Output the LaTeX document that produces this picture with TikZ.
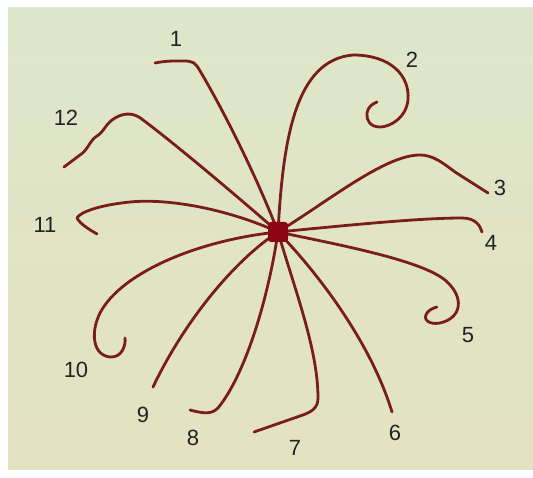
\documentclass[tikz,border=0pt]{standalone}
\usepackage{fontspec}
\setmainfont{Liberation Sans}
\definecolor{paper}{RGB}{222,230,202}
\definecolor{paperlow}{RGB}{227,226,192}
\definecolor{tent}{RGB}{122,28,26}
\definecolor{hubc}{RGB}{138,4,22}
\definecolor{ink}{RGB}{35,35,35}
\tikzset{
  tentacle/.style={draw=tent, line width=2.8pt, line cap=round, line join=round},
  hubbox/.style={fill=hubc, minimum size=20pt, inner sep=0pt, rounded corners=3pt},
  num/.style={text=ink, font=\fontsize{22}{26}\selectfont, inner sep=0pt}
}
\begin{document}
\begin{tikzpicture}[x=1pt,y=-1pt]
\useasboundingbox (0,0) rectangle (533,478);
\fill[white] (0,0) rectangle (533,478);
\shade[top color=paper, bottom color=paperlow] (8,8) rectangle (533,469);
\coordinate (c) at (278,232);
% 1
\draw[tentacle] (c) .. controls (252,165) and (215,95) .. (197,66) .. controls (193,60) and (186,61) .. (176,61) .. controls (166,61) and (160,62) .. (155,63);
% 2
\draw[tentacle] (c) .. controls (283,140) and (295,60) .. (353,55) .. controls (390,55) and (410,75) .. (408,100) .. controls (406,118) and (390,127) .. (380,127) .. controls (370,127) and (366,120) .. (367,113) .. controls (368,107) and (372,104) .. (377,102);
% 3
\draw[tentacle] (c) .. controls (330,200) and (385,155) .. (420,155) .. controls (433,155) and (443,163) .. (455,172) -- (488,193);
% 4
\draw[tentacle] (c) .. controls (350,225) and (420,218) .. (462,218) .. controls (475,218) and (480,225) .. (482,232);
% 5
\draw[tentacle] (c) .. controls (340,245) and (420,260) .. (445,280) .. controls (465,297) and (462,318) .. (440,323) .. controls (430,325) and (422,320) .. (427,313) .. controls (429,310) and (433,308) .. (437,307);
% 6
\draw[tentacle] (c) .. controls (315,270) and (370,340) .. (392,412);
% 7
\draw[tentacle] (c) .. controls (295,290) and (318,350) .. (318,398) .. controls (318,408) and (312,412) .. (300,416) -- (254,432);
% 8
\draw[tentacle] (c) .. controls (268,300) and (245,375) .. (218,408) .. controls (212,414) and (205,414) .. (190,410);
% 9
\draw[tentacle] (c) .. controls (235,260) and (185,320) .. (153,387);
% 10
\draw[tentacle] (c) .. controls (200,240) and (130,270) .. (105,305) .. controls (90,325) and (90,355) .. (110,357) .. controls (122,358) and (126,345) .. (125,338);
% 11
\draw[tentacle] (c) .. controls (230,210) and (170,198) .. (130,202) .. controls (100,205) and (80,212) .. (77,218) .. controls (80,224) and (90,230) .. (97,234);
% 12
\draw[tentacle] (c) .. controls (230,190) and (170,140) .. (143,120) .. controls (135,113) and (125,112) .. (115,118) .. controls (105,124) and (104,132) .. (97,136) .. controls (90,140) and (88,150) .. (80,155) -- (64,167);
\node[hubbox] (hub) at (c) {};
% labels
\node[num] (l1) at (176,39) {1};
\node[num] (l2) at (412,60) {2};
\node[num] (l3) at (500,188) {3};
\node[num] (l4) at (491,243) {4};
\node[num] (l5) at (468,335) {5};
\node[num] (l6) at (395,433) {6};
\node[num] (l7) at (295,448) {7};
\node[num] (l8) at (193,438) {8};
\node[num] (l9) at (143,415) {9};
\node[num] (l10) at (76,370) {10};
\node[num] (l11) at (45,225) {11};
\node[num] (l12) at (66,118) {12};
\end{tikzpicture}
\end{document}
